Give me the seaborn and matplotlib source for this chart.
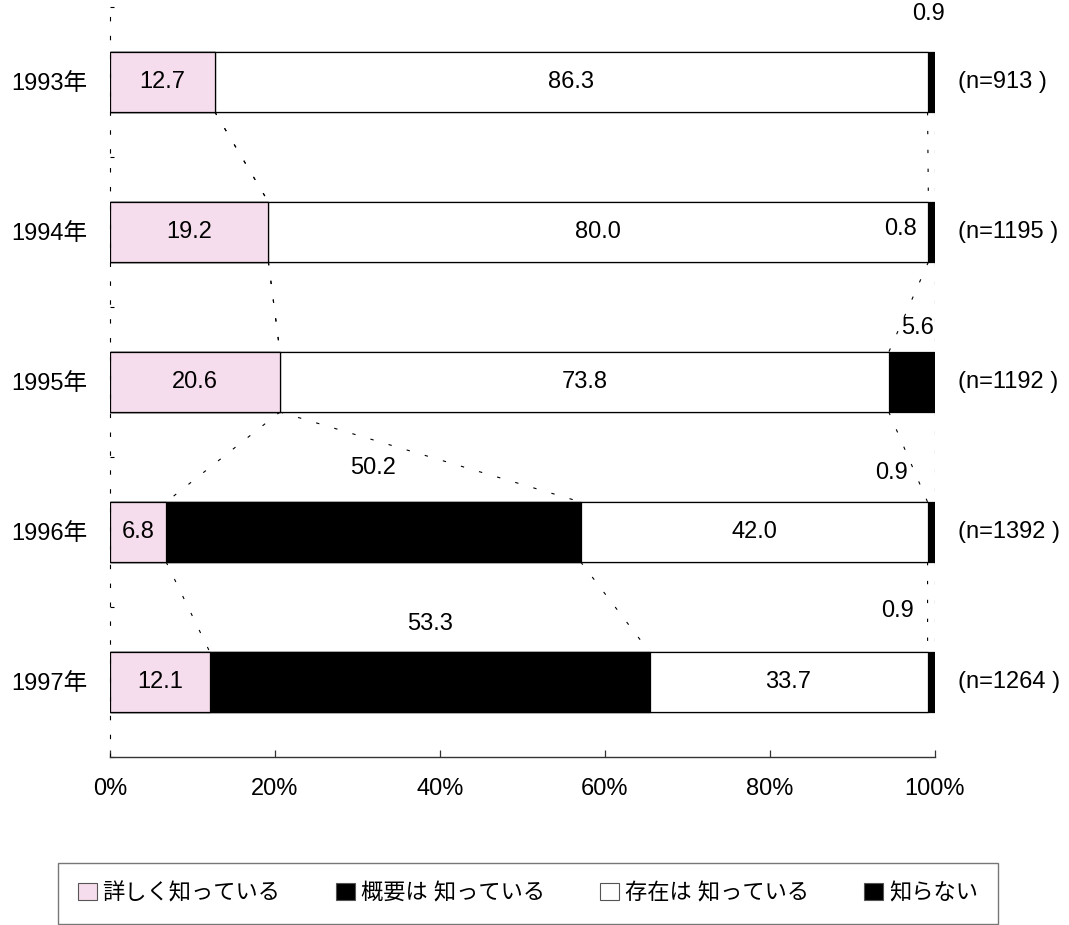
import numpy as np
import pandas as pd
import matplotlib
matplotlib.use("Agg")
import matplotlib.pyplot as plt
from matplotlib.patches import Patch
import seaborn as sns

# ---------------- data ----------------
years = ['1993年', '1994年', '1995年', '1996年', '1997年']
n_sizes = [913, 1195, 1192, 1392, 1264]
series_names = ['詳しく知っている', '概要は 知っている', '存在は 知っている', '知らない']
detailed = [12.7, 19.2, 20.6, 6.8, 12.1]
overview = [0.0, 0.0, 0.0, 50.2, 53.3]
existence = [86.3, 80.0, 73.8, 42.0, 33.7]
unknown = [0.9, 0.8, 5.6, 0.9, 0.9]
xtick_values = [0, 20, 40, 60, 80, 100]

# ---------------- style ----------------
sns.set_style('white')
plt.rcParams['font.family'] = ['Liberation Sans', 'Noto Sans CJK JP']
plt.rcParams['axes.unicode_minus'] = False
plt.rcParams['text.color'] = '#000000'
plt.rcParams['xtick.labelcolor'] = '#000000'
plt.rcParams['ytick.labelcolor'] = '#000000'

colors = ['#F6DDED', '#000000', '#FFFFFF', '#000000']
FS = 17
BAR_W = 0.4

df = pd.DataFrame({'year': years, 'detailed': detailed, 'overview': overview,
                   'existence': existence, 'unknown': unknown, 'n': n_sizes})
vals = df[['detailed', 'overview', 'existence', 'unknown']].to_numpy(dtype=float)
pct = vals / vals.sum(axis=1, keepdims=True) * 100.0   # 100% stacked
cum = np.cumsum(pct, axis=1)                           # right edge of each series
starts = cum - pct

fig = plt.figure(figsize=(10.69, 9.25), dpi=100)
ax = fig.add_axes([110 / 1069, 1 - 757 / 925, 825 / 1069, 750 / 925])

# stacked bars drawn as cumulative layers (largest first)
for k in range(3, -1, -1):
    sns.barplot(x=cum[:, k], y=df['year'], orient='y', color=colors[k],
                saturation=1, width=BAR_W, edgecolor='#000000', linewidth=0.9,
                errorbar=None, ax=ax, zorder=2)

# series lines between consecutive bars
for i in range(len(years) - 1):
    for k in range(4):
        ax.plot([cum[i, k], cum[i + 1, k]],
                [i + BAR_W / 2, i + 1 - BAR_W / 2],
                color='#000000', lw=0.8, linestyle=(0, (3, 14)), zorder=1)

# labels: detailed and existence inside segments
for i in range(len(years)):
    ax.text(starts[i, 0] + pct[i, 0] / 2, i, f'{detailed[i]:.1f}',
            ha='center', va='center', fontsize=FS, zorder=5)
    ax.text(starts[i, 2] + pct[i, 2] / 2, i, f'{existence[i]:.1f}',
            ha='center', va='center', fontsize=FS, zorder=5)

# overview labels (above the black segment)
ov_dy = {3: -0.425, 4: -0.39}
for i, dy in ov_dy.items():
    ax.text(starts[i, 1] + pct[i, 1] / 2, i + dy, f'{overview[i]:.1f}',
            ha='center', va='center', fontsize=FS, zorder=5)

# unknown labels
unk_x = [99.2, 95.8, 97.9, 94.7, 95.4]
unk_dy = [-0.45, -0.02, -0.36, -0.39, -0.475]
for i in range(len(years)):
    ax.text(unk_x[i], i + unk_dy[i], f'{unknown[i]:.1f}',
            ha='center', va='center', fontsize=FS, zorder=5, clip_on=False)

# n labels
for i, n in enumerate(n_sizes):
    ax.text(102.8, i, f'(n={n} )', ha='left', va='center', fontsize=FS,
            clip_on=False)

# axes
ax.set_xlim(0, 100)
ax.set_ylim(len(years) - 0.5, -0.5)
ax.set_xlabel('')
ax.set_ylabel('')
ax.set_xticks(xtick_values, labels=[f'{v}%' for v in xtick_values])
ax.tick_params(axis='x', direction='in', length=5, width=0.9, pad=15,
               labelsize=FS, color='#333333', labelcolor='#000000', bottom=True)
ax.set_yticks(range(len(years)), labels=years)
ax.tick_params(axis='y', which='major', length=0, pad=16, labelsize=FS,
               labelcolor='#000000')
ax.set_yticks(np.arange(-0.5, len(years), 1.0), minor=True)
ax.tick_params(axis='y', which='minor', direction='in', length=3, width=0.8,
               color='#000000', left=True)
for s in ['top', 'right']:
    ax.spines[s].set_visible(False)
ax.spines['left'].set_linestyle((0, (3, 14)))
ax.spines['left'].set_color('#000000')
ax.spines['left'].set_linewidth(0.8)
ax.spines['bottom'].set_color('#333333')
ax.spines['bottom'].set_linewidth(1.0)
ax.grid(False)

# legend
handles = [Patch(facecolor=c, edgecolor='#555555', linewidth=0.8) for c in colors]
leg = fig.legend(handles, series_names, loc='center',
                 bbox_to_anchor=(528 / 1069, 1 - 893.5 / 925), ncol=4,
                 frameon=True, fancybox=False, edgecolor='#555555',
                 fontsize=16, handlelength=0.85, handleheight=0.85,
                 handletextpad=0.25, columnspacing=2.5, borderpad=0.9)
leg.get_frame().set_linewidth(1.0)
for t in leg.get_texts():
    t.set_color('#000000')

fig.savefig('out.png', dpi=100)
